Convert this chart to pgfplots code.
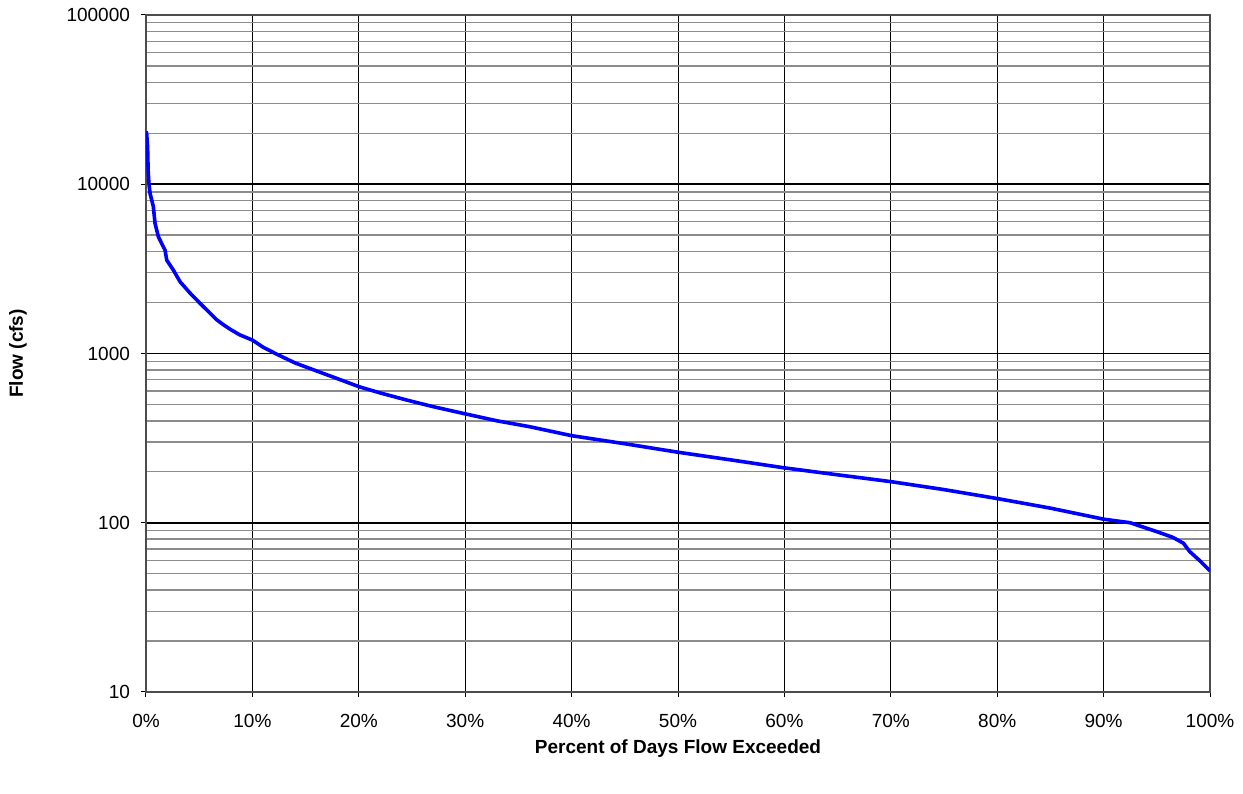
\documentclass[border=0pt]{standalone}
\usepackage{fontspec}
\setmainfont{Liberation Sans}
\usepackage{pgfplots}
\pgfplotsset{compat=1.18}
\begin{document}
\begin{tikzpicture}[x=1pt,y=1pt]
\begin{axis}[
  at={(0,0)}, anchor=south west,
  scale only axis,
  width=532pt, height=338.5pt,
  xmin=0, xmax=100,
  ymode=log, ymin=10, ymax=100000,
  xtick={0,10,...,100},
  xticklabels={0\%,10\%,20\%,30\%,40\%,50\%,60\%,70\%,80\%,90\%,100\%},
  ytick={10,100,1000,10000,100000},
  yticklabels={10,100,1000,10000,100000},
  tick align=outside, tick pos=left,
  major tick length=2.5pt, minor tick length=0pt,
  tick style={black, line width=0.5pt},
  xmajorgrids, ymajorgrids, yminorgrids,
  major x grid style={black, line width=0.5pt},
  major y grid style={black, line width=0.8pt},
  minor y grid style={black!45, line width=0.7pt},
  axis line style={black!70, line width=0.6pt},
  ticklabel style={font=\fontsize{9.5}{11}\selectfont},
  xticklabel style={yshift=-5pt},
  yticklabel style={xshift=-2pt},
  xlabel={Percent of Days Flow Exceeded},
  ylabel={Flow (cfs)},
  xlabel style={font=\fontsize{9.5}{11}\selectfont\bfseries, at={(axis description cs:0.5,-0.0842)}, anchor=center},
  ylabel style={font=\fontsize{9.5}{11}\selectfont\bfseries, at={(axis description cs:-0.1203,0.5)}, anchor=center},
]
\addplot[blue, line width=1.8pt, line join=round] coordinates {
(0.0,20500) (0.06,20000) (0.15,16700) (0.2,12100) (0.28,10000) (0.38,8850)
(0.69,7370) (0.85,5870) (1.16,4900) (1.79,4080) (1.95,3560) (2.57,3110)
(3.2,2655) (4.14,2275) (5.08,1980) (6.0,1735) (6.6,1590) (7.27,1480) (8.0,1380) (8.8,1290)
(10,1200) (11,1090) (12.3,990) (14,880) (16,790) (18,710) (20,637) (22,585)
(24.5,531) (27,485) (30,440) (33,400) (36,370) (40,327) (45,293)
(50,261) (55,235) (60,211) (65,192) (70,175) (75,157) (80,139)
(85,122) (90,105) (92.5,100) (95,88.6) (96.5,82) (97.5,75.7) (98.1,67.5)
(99,60) (100,52)
};
\end{axis}
\path[draw=none] (-73,-50.5) rectangle (548.5,346);
\end{tikzpicture}
\end{document}
